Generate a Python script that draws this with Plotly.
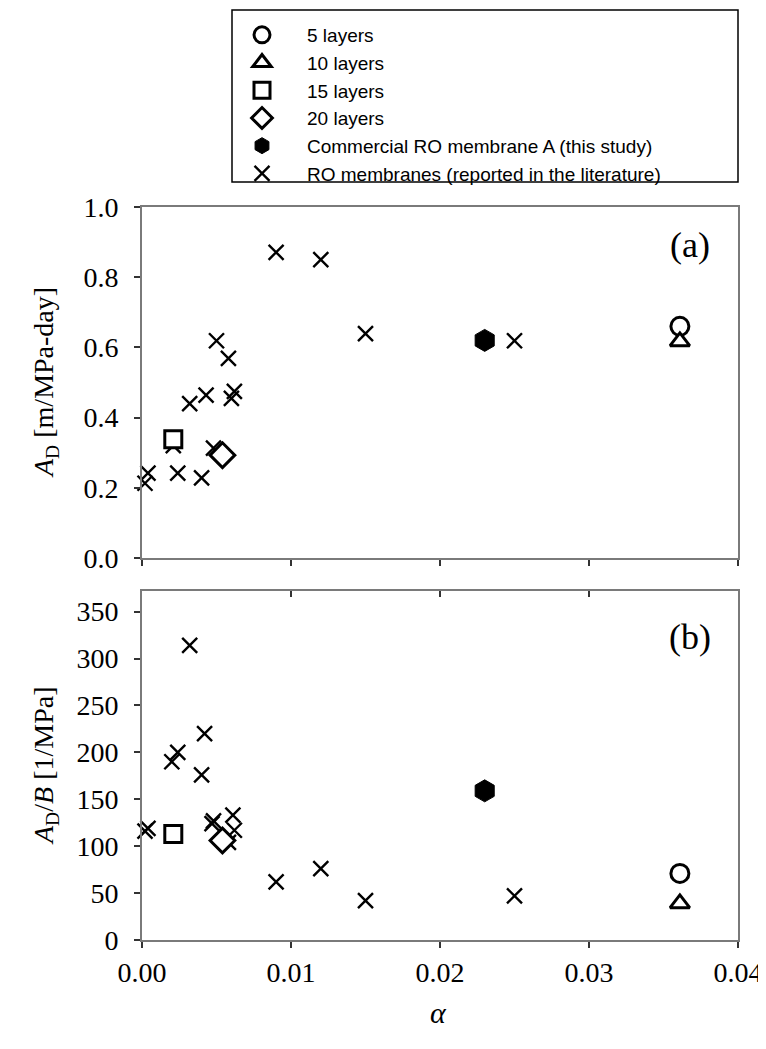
import plotly.graph_objects as go

# ---------------- data ----------------
# layered membranes (this study)
alpha_5 = [0.0361]
ad_5 = [0.66]
adb_5 = [71]

alpha_10 = [0.0361]
ad_10 = [0.617]
adb_10 = [39]

alpha_15 = [0.0021]
ad_15 = [0.338]
adb_15 = [113]

alpha_20 = [0.0054]
ad_20 = [0.293]
adb_20 = [106]

alpha_comm = [0.0230]
ad_comm = [0.620]
adb_comm = [159]

# RO membranes reported in the literature (panel a)
alpha_lit_a = [0.0002, 0.0004, 0.0021, 0.0024, 0.0032, 0.0040, 0.0043, 0.0048,
               0.0050, 0.0058, 0.0060, 0.0062, 0.0090, 0.0120, 0.0150, 0.0250]
ad_lit = [0.213, 0.242, 0.32, 0.242, 0.44, 0.228, 0.464, 0.313,
          0.619, 0.569, 0.455, 0.475, 0.871, 0.850, 0.639, 0.619]

# RO membranes reported in the literature (panel b)
alpha_lit_b = [0.0002, 0.0004, 0.0020, 0.0024, 0.0032, 0.0040, 0.0042, 0.0047,
               0.0048, 0.0058, 0.0061, 0.0062, 0.0090, 0.0120, 0.0150, 0.0250]
adb_lit = [116, 119, 190, 200, 314, 176, 220, 124,
           127, 104, 133, 117, 62, 76, 42, 47]

x_ticks = [0.00, 0.01, 0.02, 0.03, 0.04]
ya_ticks = [0.0, 0.2, 0.4, 0.6, 0.8, 1.0]
yb_ticks = [0, 50, 100, 150, 200, 250, 300, 350]

# ---------------- figure ----------------
fig = go.Figure()

SERIF = "Liberation Serif, Times New Roman, serif"
SANS = "Liberation Sans, Arial, sans-serif"

series = [
    # name, alphas, a-values, b-values, symbol, size, fill, line width, rank
    ("RO membranes (reported in the literature)", None, None, None, "x-thin", 15, "black", 2.4, 6),
    ("5 layers", alpha_5, ad_5, adb_5, "circle", 18, "white", 3, 1),
    ("10 layers", alpha_10, ad_10, adb_10, "triangle-up", 17, "white", 3, 2),
    ("15 layers", alpha_15, ad_15, adb_15, "square", 17, "white", 3, 3),
    ("20 layers", alpha_20, ad_20, adb_20, "diamond", 19, "white", 3, 4),
    ("Commercial RO membrane A (this study)", alpha_comm, ad_comm, adb_comm, "hexagon", 22, "black", 1, 5),
]

for name, ax, ya, yb, sym, size, fill, lw, rank in series:
    if ax is None:
        xa, xb = alpha_lit_a, alpha_lit_b
        ya, yb = ad_lit, adb_lit
        marker = dict(symbol=sym, size=size, color="black",
                      line=dict(color="black", width=lw))
    else:
        xa, xb = ax, ax
        marker = dict(symbol=sym, size=size, color=fill,
                      line=dict(color="black", width=lw))
    fig.add_trace(go.Scatter(x=xa, y=ya, mode="markers", name=name,
                             marker=marker, xaxis="x2", yaxis="y",
                             legendgroup=name, legendrank=rank,
                             showlegend=True, cliponaxis=False))
    fig.add_trace(go.Scatter(x=xb, y=yb, mode="markers", name=name,
                             marker=marker, xaxis="x", yaxis="y2",
                             legendgroup=name, legendrank=rank,
                             showlegend=False, cliponaxis=False))

# the page body adds an 8px offset; work in reference-screen pixels
OFF = 8
W, H = 766 - OFF, 1049 - OFF
L, T = 142 - OFF, 207 - OFF
R = 766 - 738
B = H - (940 - OFF)
pw, ph = W - L - R, H - T - B


def px(x):
    return (x - OFF - L) / pw


def py(y):
    return (H - B - (y - OFF)) / ph


frame = dict(showline=True, linecolor="#7a7a7a", linewidth=2, mirror=True,
             ticks="outside", ticklen=6, tickwidth=1.5, tickcolor="#333333",
             showgrid=False, zeroline=False,
             tickfont=dict(family=SERIF, size=28, color="black"))

fig.update_layout(
    width=W, height=H,
    margin=dict(l=L, r=R, t=T, b=B, autoexpand=False),
    paper_bgcolor="white", plot_bgcolor="white",
    xaxis=dict(domain=[0, 1], anchor="y2", range=[0, 0.04], tickvals=x_ticks,
               tickformat=".2f", ticklabelstandoff=0, automargin=False, **frame),
    xaxis2=dict(domain=[0, 1], anchor="y", range=[0, 0.04], tickvals=x_ticks,
                showticklabels=False, matches="x", automargin=False, **frame),
    xaxis3=dict(overlaying="x", anchor="y2", side="top", range=[0, 0.04],
                tickvals=x_ticks, showticklabels=False, showline=False,
                ticks="inside", ticklen=6, tickwidth=1.5, tickcolor="#333333",
                showgrid=False, zeroline=False, automargin=False),
    yaxis=dict(domain=[py(558), 1], anchor="x2", range=[0, 1.0], tickvals=ya_ticks,
               tickformat=".1f", ticklabelstandoff=10, automargin=False, **frame),
    yaxis2=dict(domain=[0, py(591)], anchor="x", range=[0, 372], tickvals=yb_ticks,
                ticklabelstandoff=10, automargin=False, **frame),
    showlegend=True,
    legend=dict(x=px(217), y=py(16), xanchor="left", yanchor="top",
                bgcolor="rgba(0,0,0,0)", borderwidth=0,
                font=dict(family=SANS, size=19, color="black"),
                itemwidth=80, tracegroupgap=0, itemsizing="trace"),
    shapes=[dict(type="rect", xref="paper", yref="paper",
                 x0=px(232), x1=px(738), y0=py(182), y1=py(10),
                 line=dict(color="black", width=1.5))],
    annotations=[
        dict(text="<i>A</i><sub>D</sub> [m/MPa-day]", xref="paper", yref="paper",
             x=px(45), y=py(383), xanchor="center", yanchor="middle",
             textangle=-90, showarrow=False,
             font=dict(family=SERIF, size=28, color="black")),
        dict(text="<i>A</i><sub>D</sub>/<i>B</i> [1/MPa]", xref="paper", yref="paper",
             x=px(45), y=py(766), xanchor="center", yanchor="middle",
             textangle=-90, showarrow=False,
             font=dict(family=SERIF, size=28, color="black")),
        dict(text="<i>α</i>", xref="paper", yref="paper",
             x=px(438), y=py(1012), xanchor="center", yanchor="middle",
             showarrow=False,
             font=dict(family=SERIF, size=30, color="black")),
        dict(text="(a)", xref="paper", yref="paper",
             x=px(690), y=py(245), xanchor="center", yanchor="middle",
             showarrow=False,
             font=dict(family=SERIF, size=36, color="black")),
        dict(text="(b)", xref="paper", yref="paper",
             x=px(690), y=py(637), xanchor="center", yanchor="middle",
             showarrow=False,
             font=dict(family=SERIF, size=36, color="black")),
    ],
)

# invisible carrier trace so the overlay axis (inward ticks on panel b top) is drawn
fig.add_trace(go.Scatter(x=[None], y=[None], xaxis="x3", yaxis="y2",
                         showlegend=False, hoverinfo="skip"))

fig.write_html("out.html")
